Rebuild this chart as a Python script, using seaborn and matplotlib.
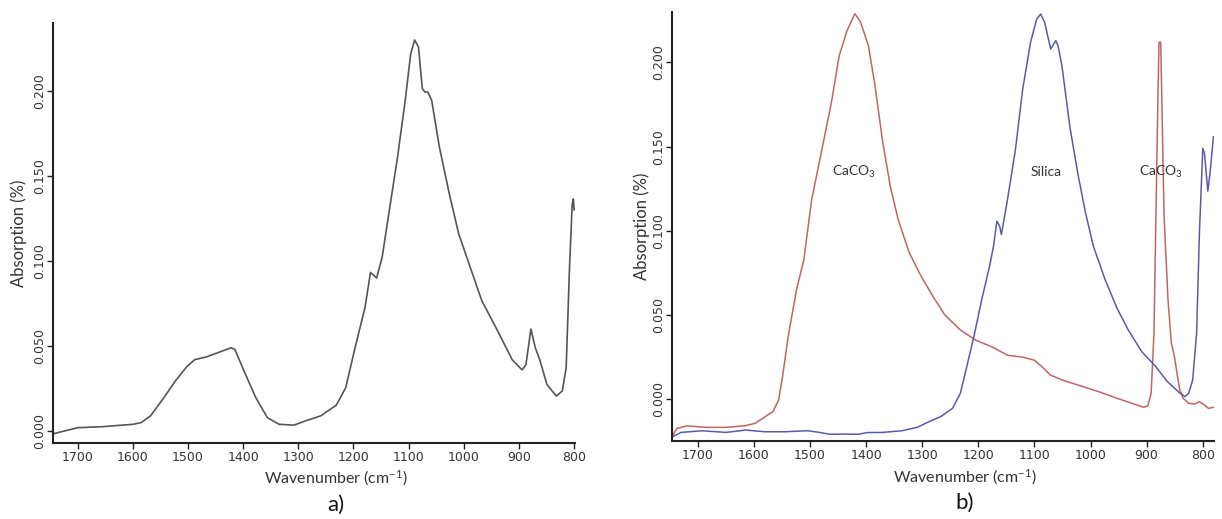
import numpy as np
import pandas as pd
import matplotlib
matplotlib.use("Agg")
import matplotlib.pyplot as plt
import seaborn as sns

# ---------------- data ----------------
wn_a = [1745, 1700, 1655, 1600, 1585, 1568, 1544, 1523, 1502, 1488, 1467, 1447, 1422, 1415,
        1398, 1377, 1356, 1335, 1308, 1287, 1259, 1231, 1214, 1197, 1179, 1169, 1158, 1148,
        1134, 1120, 1106, 1096, 1089, 1082, 1075, 1070, 1065, 1058, 1044, 1026, 1009, 988,
        967, 940, 912, 894, 887, 878, 870, 862, 849, 832, 821, 814, 808, 803, 801, 799.5]
abs_a = [-0.0016, 0.002, 0.0026, 0.004, 0.005, 0.009, 0.0196, 0.0295, 0.038, 0.042, 0.0436,
         0.046, 0.049, 0.048, 0.035, 0.0196, 0.0079, 0.004, 0.0035, 0.006, 0.009, 0.0153,
         0.0255, 0.049, 0.0727, 0.0933, 0.090, 0.102, 0.1316, 0.161, 0.1945, 0.222, 0.230,
         0.226, 0.2014, 0.1994, 0.1994, 0.1945, 0.167, 0.1395, 0.116, 0.0963, 0.0766, 0.060,
         0.042, 0.036, 0.039, 0.060, 0.049, 0.042, 0.0275, 0.0206, 0.0236, 0.0373, 0.096,
         0.1336, 0.1365, 0.130]

wn_caco3 = [1747, 1737, 1719, 1685, 1650, 1615, 1598, 1584, 1566, 1556, 1549, 1538, 1524,
            1511, 1497, 1479, 1462, 1448, 1434, 1420, 1410, 1396, 1385, 1371, 1357, 1343,
            1323, 1302, 1281, 1260, 1232, 1204, 1176, 1148, 1120, 1100, 1086, 1072, 1051,
            1023, 1013, 981, 953, 926, 905, 898, 892, 887, 884, 880, 878, 875, 873, 869,
            862, 856, 850, 846, 841, 835, 825, 814, 806, 797, 790, 781]
abs_caco3 = [-0.0228, -0.0175, -0.016, -0.0169, -0.0169, -0.0159, -0.0145, -0.0115, -0.0075,
             -0.0006, 0.0133, 0.039, 0.065, 0.0828, 0.1186, 0.148, 0.176, 0.204, 0.219, 0.229,
             0.224, 0.21, 0.188, 0.154, 0.1265, 0.1067, 0.0868, 0.0729, 0.061, 0.050, 0.041,
             0.0348, 0.031, 0.026, 0.0248, 0.023, 0.019, 0.0143, 0.0113, 0.0083, 0.0073,
             0.0038, 0.0004, -0.0026, -0.005, -0.004, 0.0034, 0.039, 0.0987, 0.178, 0.212,
             0.212, 0.178, 0.1086, 0.059, 0.0332, 0.0242, 0.0153, 0.0054, 0.0004, -0.0026,
             -0.003, -0.0016, -0.0036, -0.0056, -0.005]

wn_silica = [1747, 1730, 1692, 1650, 1615, 1580, 1545, 1504, 1483, 1465, 1441, 1413, 1399,
             1371, 1336, 1309, 1288, 1267, 1246, 1232, 1222, 1208, 1194, 1180, 1173, 1167,
             1162, 1159, 1148, 1134, 1121, 1107, 1096, 1089, 1082, 1071, 1062, 1058, 1051,
             1037, 1023, 1009, 995, 974, 953, 933, 909, 884, 863, 842, 832, 825, 818, 811,
             806, 800, 797, 791, 787, 781]
abs_silica = [-0.0228, -0.0199, -0.0189, -0.0199, -0.0185, -0.0195, -0.0195, -0.0189, -0.0199,
              -0.021, -0.0209, -0.021, -0.020, -0.0199, -0.0189, -0.0169, -0.0135, -0.0105,
              -0.0056, 0.0034, 0.0173, 0.037, 0.059, 0.0789, 0.0908, 0.1057, 0.1027, 0.0977,
              0.1186, 0.148, 0.184, 0.212, 0.2258, 0.2288, 0.224, 0.208, 0.213, 0.21, 0.198,
              0.162, 0.1345, 0.1106, 0.0908, 0.0709, 0.054, 0.0411, 0.0282, 0.0193, 0.0103,
              0.0038, 0.0014, 0.0034, 0.0113, 0.039, 0.0987, 0.149, 0.146, 0.1235, 0.1345,
              0.156]

x_ticks = [1700, 1600, 1500, 1400, 1300, 1200, 1100, 1000, 900, 800]
y_ticks = [0.000, 0.050, 0.100, 0.150, 0.200]
annot_labels = ["CaCO$_3$", "Silica", "CaCO$_3$"]
annot_x = [1421, 1079, 874]
annot_y = [0.135, 0.135, 0.135]
panel_labels = ["a)", "b)"]

# ---------------- style ----------------
sns.set_style("white")
plt.rcParams["font.family"] = ["DejaVu Sans"]
plt.rcParams["mathtext.default"] = "regular"

txt = "#333333"
lab_font = "Lato"

fig = plt.figure(figsize=(12.22, 5.19), dpi=100)
ax_a = fig.add_axes([53 / 1222, 76 / 519, 522 / 1222, 420 / 519])
ax_b = fig.add_axes([672 / 1222, 78 / 519, 542 / 1222, 429 / 519])

df_a = pd.DataFrame({"wn": wn_a, "abs": abs_a})
sns.lineplot(data=df_a, x="wn", y="abs", ax=ax_a, color="#555555", lw=1.2)

df_c = pd.DataFrame({"wn": wn_caco3, "abs": abs_caco3})
df_s = pd.DataFrame({"wn": wn_silica, "abs": abs_silica})
sns.lineplot(data=df_c, x="wn", y="abs", ax=ax_b, color="#c06464", lw=1.1)
sns.lineplot(data=df_s, x="wn", y="abs", ax=ax_b, color="#5a5aaa", lw=1.1)

ax_a.set_xlim(1745, 798)
ax_a.set_ylim(-0.007, 0.240)
ax_b.set_xlim(1746, 780)
ax_b.set_ylim(-0.025, 0.230)

cfg = [
    (ax_a, panel_labels[0], (336 - 53) / 522, -0.060, -0.050, 420),
    (ax_b, panel_labels[1], (965 - 672) / 542, -0.063, -0.040, 429),
]
for ax, lab, xl, xly, yly, h in cfg:
    for s in ["top", "right"]:
        ax.spines[s].set_visible(False)
    for s in ["left", "bottom"]:
        ax.spines[s].set_color("#222222")
        ax.spines[s].set_linewidth(1.5)
    ax.set_xticks(x_ticks)
    ax.set_yticks(y_ticks)
    ax.set_yticklabels([f"{v:.3f}" for v in y_ticks], rotation=90, va="center")
    ax.tick_params(axis="both", which="major", direction="out", length=4, width=1,
                   color="#222222", labelsize=9, labelcolor=txt, pad=2,
                   left=True, bottom=True)
    ax.tick_params(axis="y", pad=1)
    ax.set_xlabel("Wavenumber (cm$^{-1}$)", fontsize=11.5, color=txt, family=lab_font)
    ax.set_ylabel("Absorption (%)", fontsize=12, color=txt, family=lab_font)
    ax.xaxis.set_label_coords(xl, xly)
    ax.yaxis.set_label_coords(yly, 0.5)
    ax.text(xl, -(62 / h), lab, transform=ax.transAxes, ha="center", va="center",
            fontsize=16, color="#111111", family=lab_font)

for t, x, y in zip(annot_labels, annot_x, annot_y):
    ax_b.text(x, y, t, ha="center", va="center", fontsize=10, color=txt, family=lab_font)

fig.savefig("out.png", dpi=100)
